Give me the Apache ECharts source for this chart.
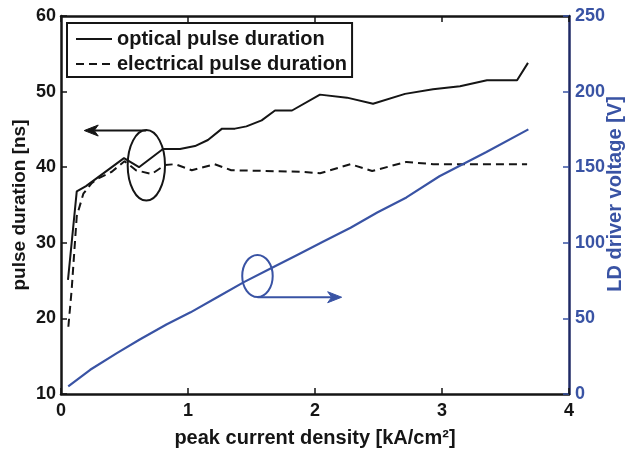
<!DOCTYPE html>
<html><head><meta charset="utf-8">
<script src="https://cdn.jsdelivr.net/npm/echarts@6.0.0/dist/echarts.min.js"></script>
<style>html,body{margin:0;padding:0;background:#fff}#c{width:630px;height:450px}</style>
</head><body><div id="c"></div>
<script>
// ---- data ----
const xTickValues = [0, 1, 2, 3, 4];
const leftTickValues = [10, 20, 30, 40, 50, 60];
const rightTickValues = [0, 50, 100, 150, 200, 250];

const opticalX  = [0.055,0.124,0.197,0.496,0.614,0.803,0.937,1.055,1.157,1.268,1.370,1.46,1.58,1.685,1.819,2.039,2.252,2.457,2.709,2.929,3.142,3.354,3.591,3.677];
const opticalNs = [25.1, 36.8, 37.5, 41.2, 40.0, 42.4, 42.4, 42.8, 43.6, 45.1, 45.1, 45.4,46.2, 47.5, 47.5, 49.6, 49.2, 48.4, 49.7, 50.3, 50.7, 51.5, 51.5, 53.8];

const electricalX  = [0.058,0.084,0.124,0.176,0.242,0.29,0.40,0.50,0.59,0.714,0.82,0.90,1.03,1.21,1.34,1.88,2.04,2.28,2.45,2.72,2.93,3.67];
const electricalNs = [18.9, 23.8, 33.5, 36.5, 37.9, 38.5,39.4,40.8,39.6,39.1, 40.3,40.4,39.6,40.4,39.6,39.4,39.2,40.4,39.5,40.7,40.4,40.4];

const voltX = [0.057,0.23,0.44,0.62,0.83,1.02,1.23,1.44,1.65,1.86,2.07,2.28,2.49,2.72,2.98,3.35,3.68];
const voltV = [5,    16,  27,  36,  46,  54,  64,  74,  83,  92,  101, 110, 120, 130, 144, 160, 175];

const seriesNames = ['optical pulse duration', 'electrical pulse duration', 'LD driver voltage'];

// annotation markers in data coordinates
const leftMarker  = {x: 0.672, y: 40.25, rx: 0.147, ry: 4.67, arrowFromY: 44.85, arrowToX: 0.183};
const rightMarker = {x: 1.547, y: 78, rx: 0.12, ry: 13.9, arrowFromY: 64, arrowToX: 2.21};

// ---- chart ----
const BLACK = '#151515';
const BLUE = '#3953a4';
const FONT = 'Liberation Sans';
const zip = (a, b) => a.map((v, i) => [v, b[i]]);

const chart = echarts.init(document.getElementById('c'), null, {renderer: 'canvas'});

const xAxisBase = {
  type: 'value', min: xTickValues[0], max: xTickValues[xTickValues.length - 1], interval: 1,
  axisLine: {onZero: false, lineStyle: {color: BLACK, width: 2.5}},
  axisTick: {inside: true, length: 6, lineStyle: {color: BLACK, width: 1.5}},
  splitLine: {show: false}
};

chart.setOption({
  animation: false,
  textStyle: {fontFamily: FONT},
  grid: {left: 61, right: 61, top: 16, bottom: 56, containLabel: false, outerBoundsMode: 'none'},
  legend: {
    orient: 'vertical', left: 67, top: 23,
    data: [seriesNames[0], seriesNames[1]],
    itemWidth: 36, itemHeight: 4, itemGap: 5,
    padding: [6, 5, 3, 8],
    itemStyle: {opacity: 0},
    borderColor: BLACK, borderWidth: 2, backgroundColor: '#fff',
    textStyle: {color: BLACK, fontSize: 20, fontWeight: 'bold', fontFamily: FONT}
  },
  xAxis: [
    Object.assign({}, xAxisBase, {
      position: 'bottom',
      axisLabel: {color: BLACK, fontSize: 18, fontWeight: 'bold', margin: 8, fontFamily: FONT},
      name: 'peak current density [kA/cm²]', nameLocation: 'middle', nameGap: 34, nameMoveOverlap: false,
      nameTextStyle: {color: BLACK, fontSize: 20, fontWeight: 'bold', fontFamily: FONT}
    }),
    Object.assign({}, xAxisBase, {position: 'top', axisLabel: {show: false}})
  ],
  yAxis: [
    {
      type: 'value', position: 'left', min: leftTickValues[0], max: leftTickValues[leftTickValues.length - 1], interval: 10,
      axisLine: {show: true, onZero: false, lineStyle: {color: BLACK, width: 2.5}},
      axisTick: {show: true, inside: true, length: 6, lineStyle: {color: BLACK, width: 1.5}},
      axisLabel: {color: BLACK, fontSize: 18, fontWeight: 'bold', margin: 5, fontFamily: FONT},
      splitLine: {show: false},
      name: 'pulse duration [ns]', nameLocation: 'middle', nameGap: 32, nameRotate: 90, nameMoveOverlap: false,
      nameTextStyle: {color: BLACK, fontSize: 19, fontWeight: 'bold', fontFamily: FONT}
    },
    {
      type: 'value', position: 'right', min: rightTickValues[0], max: rightTickValues[rightTickValues.length - 1], interval: 50,
      axisLine: {show: true, onZero: false, lineStyle: {color: '#1f2a66', width: 2.5}},
      axisTick: {show: true, inside: true, length: 6, lineStyle: {color: BLUE, width: 1.5}},
      axisLabel: {color: BLUE, fontSize: 18, fontWeight: 'bold', margin: 6, fontFamily: FONT},
      splitLine: {show: false},
      name: 'LD driver voltage [V]', nameLocation: 'middle', nameGap: 36, nameRotate: 90, nameMoveOverlap: false,
      nameTextStyle: {color: BLUE, fontSize: 20, fontWeight: 'bold', fontFamily: FONT, padding: [0, 0, 0, 22]}
    }
  ],
  series: [
    {name: seriesNames[0], type: 'line', xAxisIndex: 0, yAxisIndex: 0, symbol: 'none',
     data: zip(opticalX, opticalNs), lineStyle: {color: BLACK, width: 2}, itemStyle: {color: BLACK}},
    {name: seriesNames[1], type: 'line', xAxisIndex: 0, yAxisIndex: 0, symbol: 'none',
     data: zip(electricalX, electricalNs), lineStyle: {color: BLACK, width: 2, type: [8, 5]}, itemStyle: {color: BLACK}},
    {name: seriesNames[2], type: 'line', xAxisIndex: 0, yAxisIndex: 1, symbol: 'none',
     data: zip(voltX, voltV), lineStyle: {color: BLUE, width: 2.2}, itemStyle: {color: BLUE}}
  ]
});

function markerGraphics(m, yAxisIndex, color, dir) {
  const c = chart.convertToPixel({xAxisIndex: 0, yAxisIndex}, [m.x, m.y]);
  const ex = chart.convertToPixel({xAxisIndex: 0, yAxisIndex}, [m.x + m.rx, m.y + m.ry]);
  const rx = Math.abs(ex[0] - c[0]), ry = Math.abs(ex[1] - c[1]);
  const a0 = chart.convertToPixel({xAxisIndex: 0, yAxisIndex}, [m.x, m.arrowFromY]);
  const a1 = chart.convertToPixel({xAxisIndex: 0, yAxisIndex}, [m.arrowToX, m.arrowFromY]);
  const L = 14, W = 5.5, N = 4;
  const tx = a1[0], ty = a1[1];
  const head = [[tx, ty], [tx - dir * L, ty - W], [tx - dir * (L - N), ty], [tx - dir * L, ty + W]];
  return [
    {type: 'ellipse', shape: {cx: c[0], cy: c[1], rx, ry}, style: {fill: null, stroke: color, lineWidth: 2}, z: 100},
    {type: 'line', shape: {x1: a0[0], y1: a0[1], x2: tx - dir * (L - N), y2: ty}, style: {stroke: color, lineWidth: 2}, z: 100},
    {type: 'polygon', shape: {points: head}, style: {fill: color, stroke: color, lineWidth: 1}, z: 100}
  ];
}

chart.setOption({
  graphic: [].concat(markerGraphics(leftMarker, 0, BLACK, -1), markerGraphics(rightMarker, 1, BLUE, 1))
});
</script>
</body></html>
